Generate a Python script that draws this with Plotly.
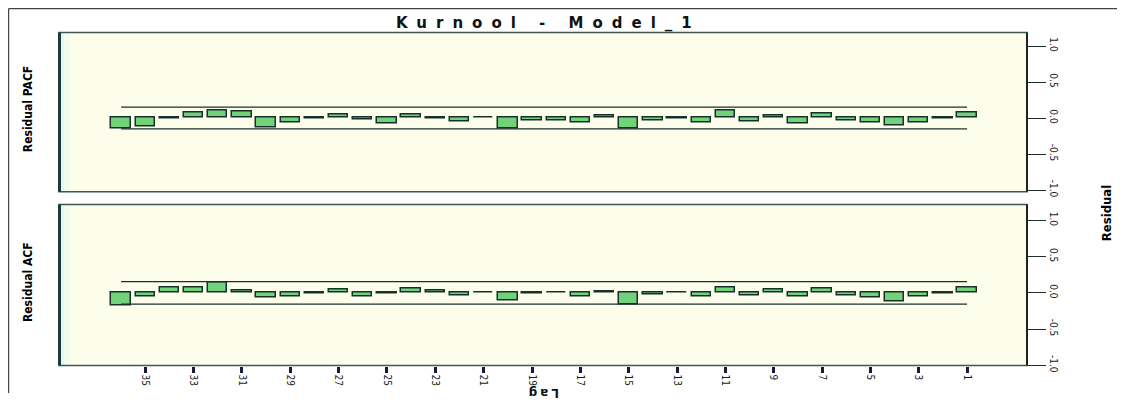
import plotly.graph_objects as go

lags = list(range(1, 37))
# values listed for lag 1..36
pacf_vals = [0.075, -0.01, -0.06, -0.11, -0.06, -0.04, 0.065, -0.08, 0.04, -0.05,
             0.10, -0.06, -0.01, -0.04, -0.14, 0.04, -0.06, -0.04, -0.04, -0.14,
             0.01, -0.05, -0.01, 0.05, -0.07, -0.02, 0.045, -0.01, -0.06, -0.135,
             0.085, 0.11, 0.07, -0.01, -0.125, -0.14]
acf_vals = [0.07, -0.005, -0.055, -0.115, -0.07, -0.035, 0.065, -0.055, 0.05, -0.03,
            0.08, -0.045, 0.0, -0.025, -0.16, 0.025, -0.055, 0.0, -0.015, -0.10,
            0.0, -0.03, 0.035, 0.065, -0.01, -0.045, 0.045, -0.01, -0.055, -0.07,
            0.035, 0.145, 0.08, 0.08, -0.055, -0.18]
pacf_conf = 0.15
acf_conf = 0.155
lag_ticks = [35, 33, 31, 29, 27, 25, 23, 21, 19, 17, 15, 13, 11, 9, 7, 5, 3, 1]
y_ticks = [1.0, 0.5, 0.0, -0.5, -1.0]
y_tick_text = ["1.0", "0.5", "0.0", "-0.5", "-1.0"]

# page body has an 8px margin, so the figure starts at (8, 8) in the window
OFF = 8
W, H = 1125 - OFF, 400 - OFF
def px(x):
    return (x - OFF) / W
def py(y):
    return 1 - (y - OFF) / H

BAR_FILL = "#72d27a"
BAR_LINE = "#16302a"
DARK = "#1e2e2e"
BORDER = "#3c5656"
BG = "#fdfdec"

fig = go.Figure()

for vals, conf, ax in [(pacf_vals, pacf_conf, ""), (acf_vals, acf_conf, "2")]:
    fig.add_trace(go.Bar(
        x=lags, y=vals, base=0, width=0.8,
        marker=dict(color=BAR_FILL, line=dict(color=BAR_LINE, width=1.5)),
        xaxis="x" + ax, yaxis="y" + ax, showlegend=False, hoverinfo="skip"))
    for c in (conf, -conf):
        fig.add_trace(go.Scatter(
            x=[max(lags), min(lags)], y=[c, c], mode="lines",
            line=dict(color=DARK, width=1.3),
            xaxis="x" + ax, yaxis="y" + ax, showlegend=False, hoverinfo="skip"))

xdom = [px(59), px(1027)]
xrange = [38.57, -1.48]
top_dom = [py(195), py(33)]
bot_dom = [py(372), py(208)]

TICK_FONT = dict(family="DejaVu Sans Condensed, Arial", size=10, color="#1a1a1a")
common_y = dict(
    side="right", tickvals=y_ticks, ticktext=y_tick_text, tickangle=90,
    ticks="outside", ticklen=18, tickwidth=1.2, tickcolor=DARK,
    tickfont=TICK_FONT,
    showgrid=False, zeroline=False, showline=False, fixedrange=True)

fig.update_layout(
    width=W, height=H,
    margin=dict(l=0, r=0, t=0, b=0),
    paper_bgcolor="white", plot_bgcolor=BG,
    bargap=0,
    xaxis=dict(domain=xdom, range=xrange, showticklabels=False, ticks="",
               showgrid=False, zeroline=False, anchor="y"),
    yaxis=dict(domain=top_dom, range=[-1.023, 1.187], anchor="x", **common_y),
    xaxis2=dict(domain=xdom, range=xrange, tickvals=lag_ticks,
                ticktext=[str(v) for v in lag_ticks], tickangle=90,
                ticks="outside", ticklen=6, tickwidth=2.5, tickcolor="#1a1a3a",
                tickfont=TICK_FONT,
                showgrid=False, zeroline=False, anchor="y2"),
    yaxis2=dict(domain=bot_dom, range=[-1.004, 1.221], anchor="x2", **common_y),
)

shapes = []
for (ytop, ybot) in [(33, 195), (208, 372)]:
    shapes.append(dict(type="rect", xref="paper", yref="paper", layer="below",
                       x0=px(60), x1=px(64), y0=py(ybot), y1=py(ytop),
                       fillcolor="#dcfbf2", line=dict(width=0)))
    shapes.append(dict(type="rect", xref="paper", yref="paper", layer="below",
                       x0=px(64), x1=px(70), y0=py(ybot), y1=py(ytop),
                       fillcolor="#f2fdf0", line=dict(width=0)))
    shapes.append(dict(type="rect", xref="paper", yref="paper",
                       x0=px(59), x1=px(1027), y0=py(ybot), y1=py(ytop),
                       line=dict(color=BORDER, width=1.5)))
    shapes.append(dict(type="line", xref="paper", yref="paper",
                       x0=px(59.5), x1=px(59.5), y0=py(ybot), y1=py(ytop),
                       line=dict(color="#223838", width=3)))
    shapes.append(dict(type="line", xref="paper", yref="paper",
                       x0=px(1027), x1=px(1027), y0=py(ybot), y1=py(ytop),
                       line=dict(color="#222", width=2)))
# outer frame (top and left)
shapes.append(dict(type="line", xref="paper", yref="paper",
                   x0=px(8.6), x1=1.0, y0=py(8.6), y1=py(8.6),
                   line=dict(color="#444", width=1.2)))
shapes.append(dict(type="line", xref="paper", yref="paper",
                   x0=px(8.6), x1=px(8.6), y0=0, y1=py(8.6),
                   line=dict(color="#444", width=1.2)))
fig.update_layout(shapes=shapes)

LABEL_FONT = dict(family="DejaVu Sans Condensed, Arial", size=12, color="black")
def ann(text, x, y, font, angle=0, yanchor="middle"):
    return dict(text=text, x=px(x), y=py(y), xref="paper", yref="paper",
                xanchor="center", yanchor=yanchor, showarrow=False,
                textangle=angle, font=font)

annotations = [
    ann("<span style='letter-spacing:9px'><b>Kurnool - Model_1</b></span>", 548, 23,
        dict(family="DejaVu Sans, Arial", size=15, color="#111")),
    ann("<b>Residual PACF</b>", 28, 111, LABEL_FONT, -90),
    ann("<b>Residual ACF</b>", 28, 287, LABEL_FONT, -90),
    ann("<b>Residual</b>", 1106, 217, dict(family="DejaVu Sans Condensed, Arial", size=13, color="black"), -90),
    ann("<span style='letter-spacing:3px'><b>Lag</b></span>", 543, 400,
        dict(family="DejaVu Sans, Arial", size=12, color="#111"), 180),
]
fig.update_layout(annotations=annotations)

fig.write_html("out.html")
